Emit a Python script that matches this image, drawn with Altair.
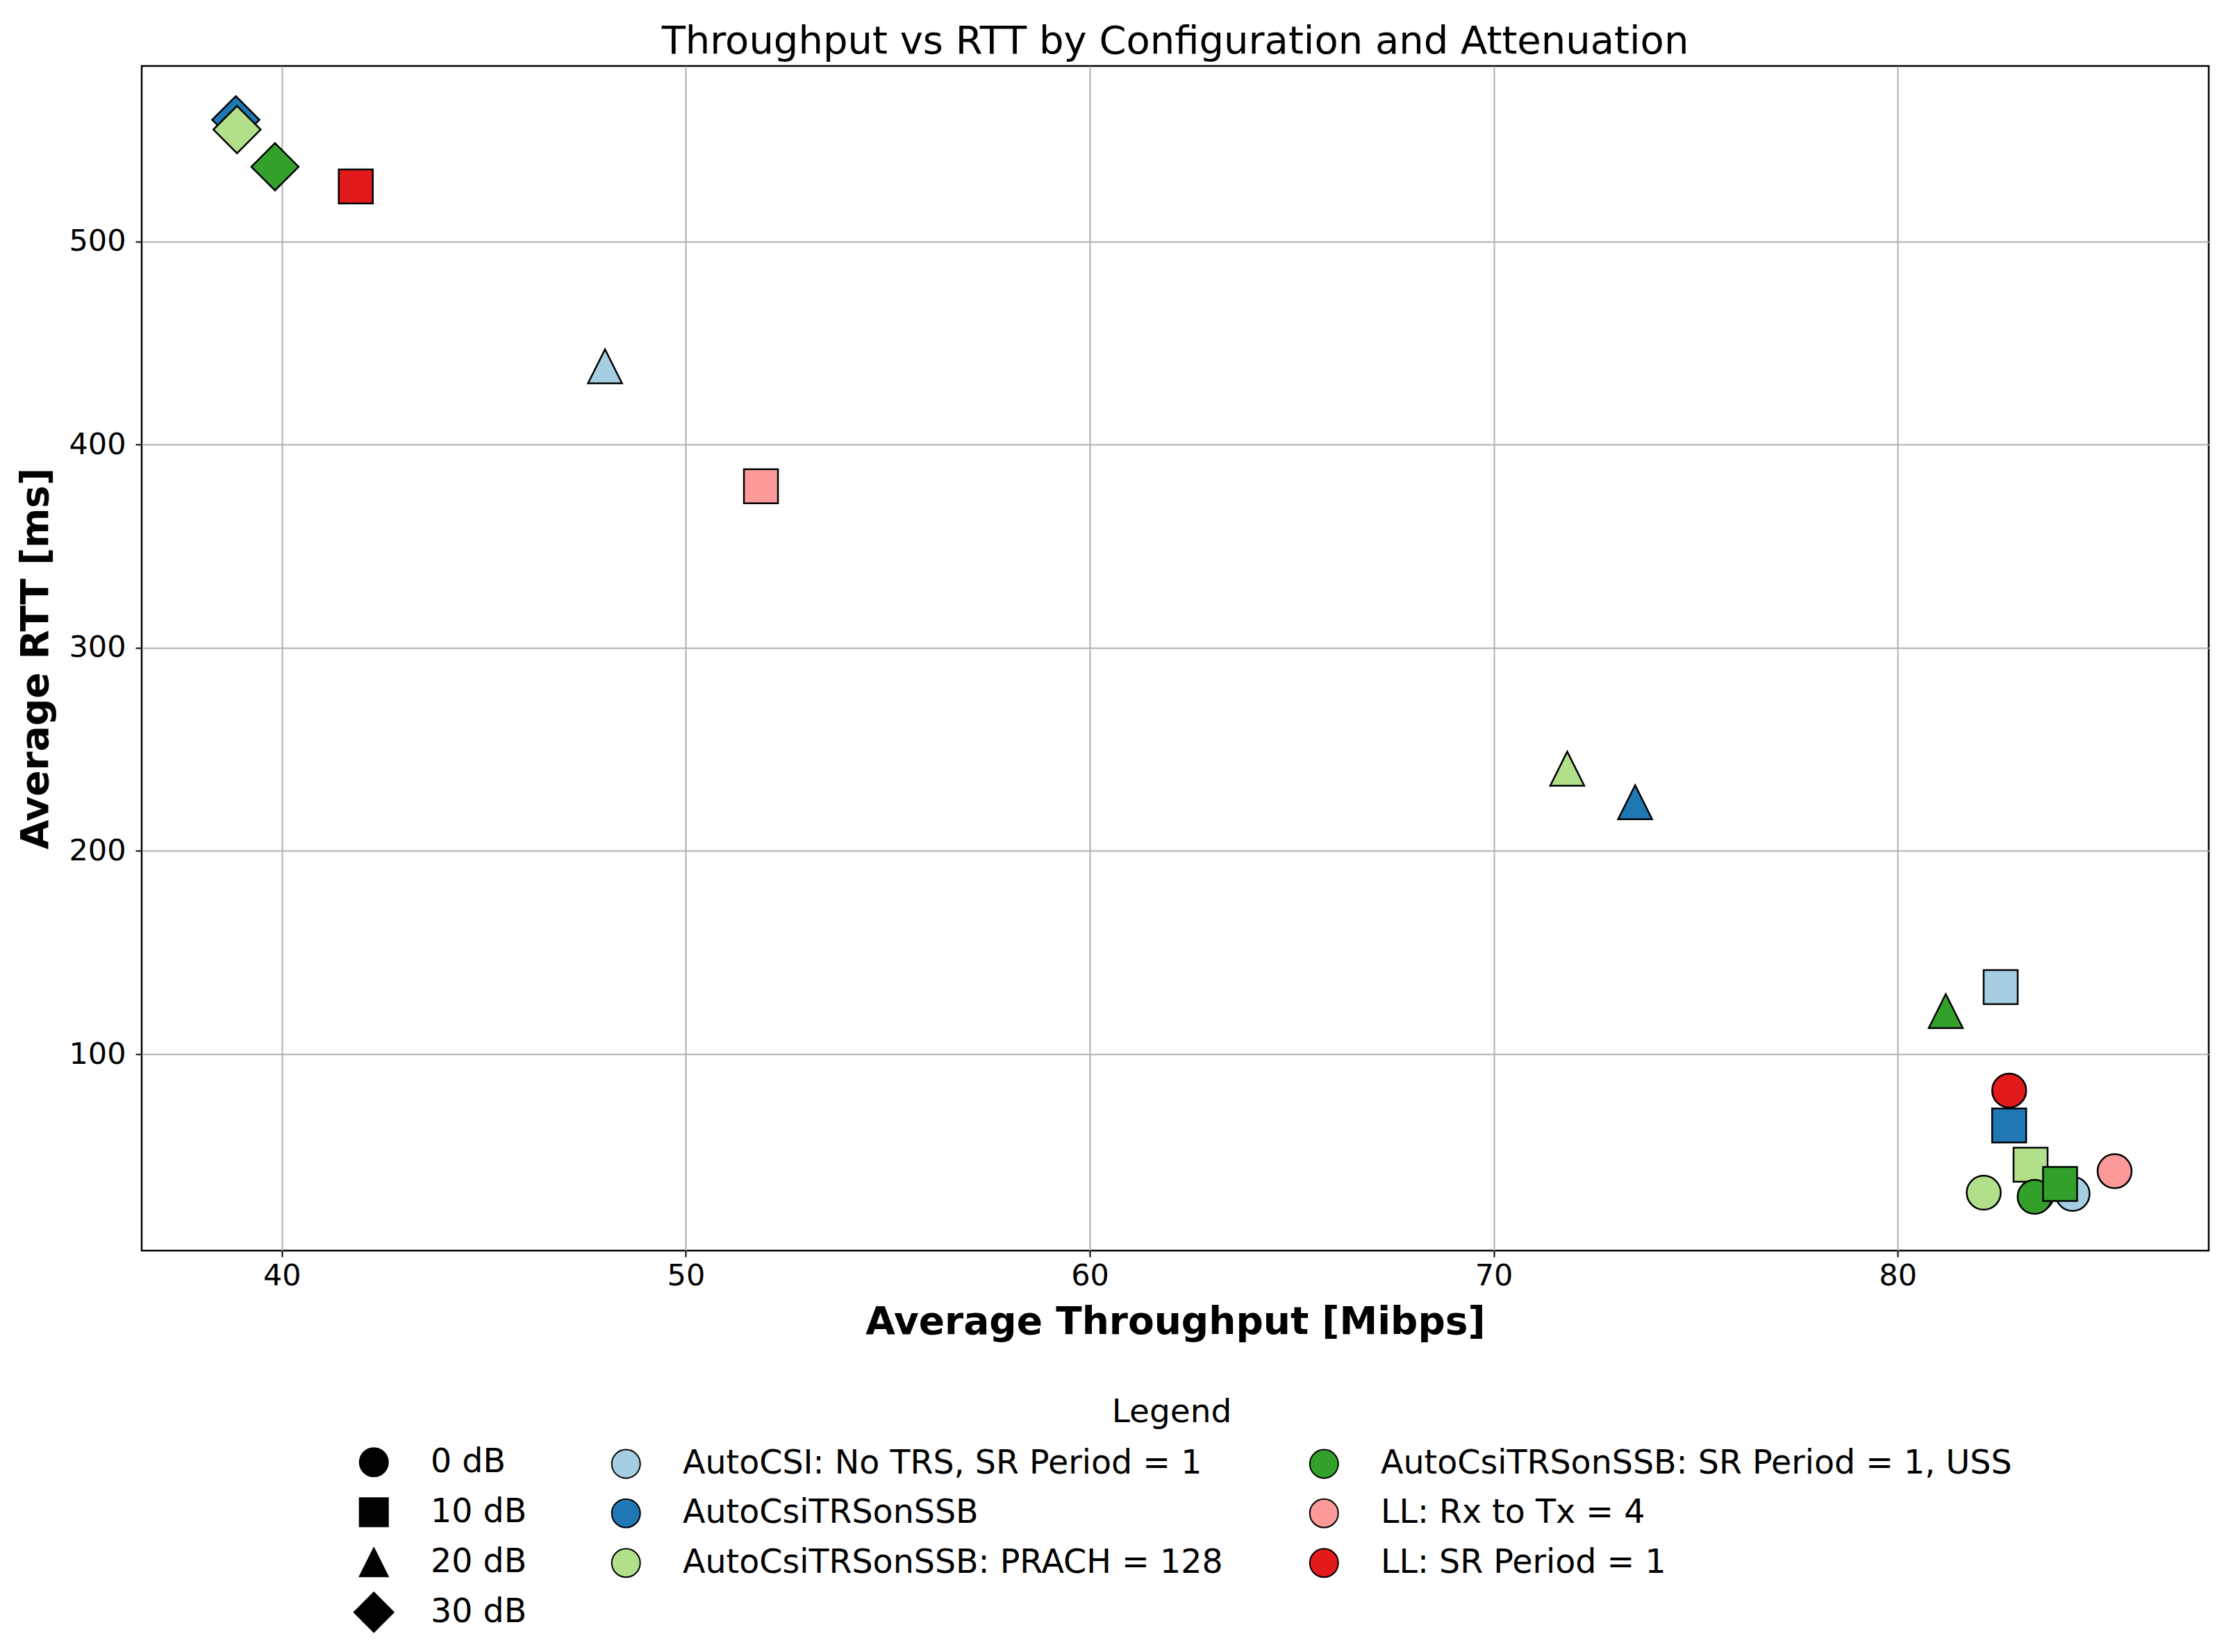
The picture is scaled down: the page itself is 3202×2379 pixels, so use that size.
import altair as alt
import pandas as pd

# ---- data ----
CONFIGS = [
    "AutoCSI: No TRS, SR Period = 1",
    "AutoCsiTRSonSSB",
    "AutoCsiTRSonSSB: PRACH = 128",
    "AutoCsiTRSonSSB: SR Period = 1, USS",
    "LL: Rx to Tx = 4",
    "LL: SR Period = 1",
]
COLORS = ["#a6cee3", "#1f78b4", "#b2df8a", "#33a02c", "#fb9a99", "#e31a1c"]
ATTENUATIONS = ["0 dB", "10 dB", "20 dB", "30 dB"]

point_config = [
    CONFIGS[0], CONFIGS[0], CONFIGS[0],
    CONFIGS[1], CONFIGS[1], CONFIGS[1], CONFIGS[1],
    CONFIGS[2], CONFIGS[2], CONFIGS[2], CONFIGS[2],
    CONFIGS[3], CONFIGS[3], CONFIGS[3], CONFIGS[3],
    CONFIGS[4], CONFIGS[4],
    CONFIGS[5], CONFIGS[5],
]
point_atten = [
    "0 dB", "10 dB", "20 dB",
    "0 dB", "10 dB", "20 dB", "30 dB",
    "0 dB", "10 dB", "20 dB", "30 dB",
    "0 dB", "10 dB", "20 dB", "30 dB",
    "0 dB", "10 dB",
    "0 dB", "10 dB",
]
throughput = [
    84.33, 82.55, 48.00,
    83.45, 82.76, 73.50, 38.86,
    82.13, 83.29, 71.82, 38.89,
    83.39, 84.02, 81.19, 39.83,
    85.37, 51.86,
    82.76, 41.83,
]
rtt = [
    31.2, 133.0, 438.5,
    31.0, 64.9, 224.0, 559.8,
    31.8, 45.6, 240.5, 555.0,
    29.8, 36.1, 121.2, 536.7,
    42.4, 379.5,
    82.1, 527.0,
]

X_TICKS = [40, 50, 60, 70, 80]
Y_TICKS = [100, 200, 300, 400, 500]
TITLE = "Throughput vs RTT by Configuration and Attenuation"
X_TITLE = "Average Throughput [Mibps]"
Y_TITLE = "Average RTT [ms]"
LEGEND_TITLE = "Legend"

df = pd.DataFrame({
    "config": point_config,
    "atten": point_atten,
    "tput": throughput,
    "rtt": rtt,
})

shape_range = [
    "circle",
    "square",
    "M0,-1L1,1L-1,1Z",
    "M0,-1.39L1.39,0L0,1.39L-1.39,0Z",
]

FONT = "DejaVu Sans"
PLOT_W, PLOT_H = 2976, 1706

points = alt.Chart(df).mark_point(
    filled=True, size=2401, stroke="black", strokeWidth=2.5, opacity=1
).encode(
    x=alt.X(
        "tput:Q",
        scale=alt.Scale(domain=[36.53, 87.70], nice=False, zero=False),
        axis=alt.Axis(values=X_TICKS, title=X_TITLE, labelPadding=6, titlePadding=18),
    ),
    y=alt.Y(
        "rtt:Q",
        scale=alt.Scale(domain=[3.3, 586.3], nice=False, zero=False),
        axis=alt.Axis(values=Y_TICKS, title=Y_TITLE, labelPadding=14, titlePadding=18),
    ),
    color=alt.Color(
        "config:N",
        scale=alt.Scale(domain=CONFIGS, range=COLORS),
        legend=alt.Legend(
            title=None, orient="none", legendX=673.5, legendY=1989,
            columns=2, columnPadding=120, symbolType="circle",
            symbolStrokeColor="black", symbolStrokeWidth=2, rowPadding=21.5,
        ),
    ),
    shape=alt.Shape(
        "atten:N",
        scale=alt.Scale(domain=ATTENUATIONS, range=shape_range),
        legend=alt.Legend(
            title=None, orient="none", legendX=310.5, legendY=1987,
            symbolFillColor="black", symbolStrokeColor="black",
            gridAlign="all", rowPadding=6,
        ),
    ),
)

legend_title = alt.Chart(pd.DataFrame({"t": [LEGEND_TITLE]})).mark_text(
    font=FONT, fontSize=47, color="black", align="center", baseline="middle"
).encode(
    x=alt.value(1483), y=alt.value(1939), text="t:N"
)

chart = alt.layer(points, legend_title).properties(
    width=PLOT_W,
    height=PLOT_H,
    title=alt.TitleParams(
        text=TITLE, font=FONT, fontSize=56, fontWeight="normal",
        color="black", anchor="middle", offset=6,
    ),
    autosize=alt.AutoSizeParams(type="none"),
    padding={"left": 196, "top": 87, "right": 10, "bottom": 560},
).configure_view(
    stroke="black", strokeWidth=2.5
).configure_axis(
    labelFont=FONT, labelFontSize=43, labelColor="black",
    titleFont=FONT, titleFontSize=55, titleFontWeight="bold", titleColor="black",
    domain=False, ticks=True, tickColor="black", tickWidth=2, tickSize=9,
    grid=True, gridColor="#b0b0b0", gridWidth=2, gridOpacity=1,
).configure_legend(
    labelFont=FONT, labelFontSize=47.5, labelColor="black", labelLimit=2000,
    symbolSize=1681, labelOffset=58, padding=0,
    symbolStrokeWidth=2,
)

chart.save("out.html", embed_options={"renderer": "svg", "actions": False})
